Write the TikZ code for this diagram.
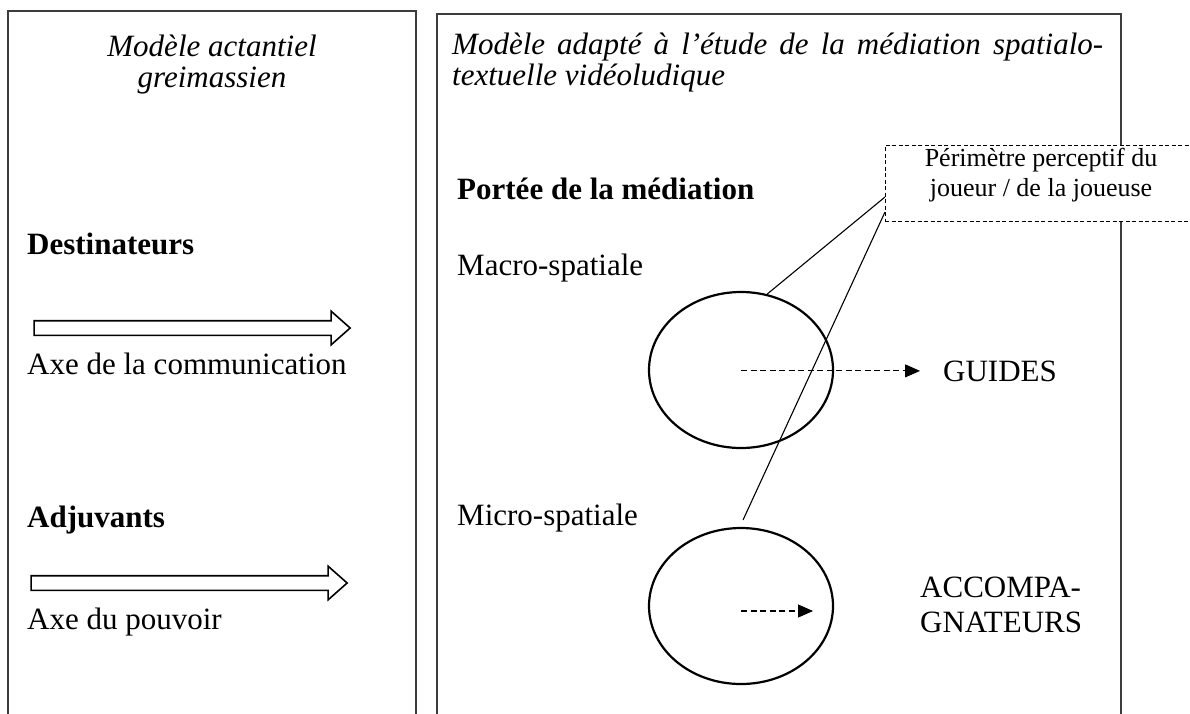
\documentclass[tikz,border=0pt]{standalone}
\usepackage{fontspec}
\setmainfont{Liberation Serif}
\usetikzlibrary{arrows.meta,positioning,shapes.geometric,shapes.arrows}
\definecolor{panelgray}{HTML}{3C3C3C}
\tikzset{
  panel/.style={draw=panelgray, line width=1.4pt},
  titletext/.style={font=\fontsize{31}{31}\selectfont\itshape, inner sep=0pt},
  headtext/.style={font=\fontsize{31}{33}\selectfont\bfseries, anchor=base west, inner sep=0pt},
  plaintext/.style={font=\fontsize{31}{35}\selectfont, anchor=base west, inner sep=0pt},
  bigarrow/.style={single arrow, draw, line width=1.6pt, inner xsep=0pt, inner ysep=6.5pt, single arrow head extend=9.5pt, single arrow tip angle=83, minimum height=316pt},
  zone/.style={ellipse, draw, line width=2.2pt, minimum width=184pt, minimum height=156pt, inner sep=0pt},
  perimbox/.style={draw, dashed, dash pattern=on 4pt off 2.5pt, fill=white, line width=1pt, minimum width=312pt, minimum height=76pt},
  perimtext/.style={font=\fontsize{26}{30}\selectfont, align=center, inner sep=0pt},
  thinedge/.style={line width=1.1pt},
  dashededge/.style={-{Triangle[length=15pt,width=13pt]}, dash pattern=on 6pt off 3.5pt, line width=1.1pt}
}
\begin{document}
\begin{tikzpicture}[x=1pt, y=-1pt]
  \useasboundingbox (0,0) rectangle (1190,713);
  \clip (0,0) rectangle (1190,713);
  % the two panels, open at the bottom
  \draw[panel] (8,730) -- (8,11) -- (416,11) -- (416,730);
  \draw[panel] (437,730) -- (437,14) -- (1121,14) -- (1121,730);
  % left panel
  \node[titletext, align=center, anchor=north] (lefttitle) at (212,35) {Modèle actantiel\\greimassien};
  \node[headtext] (destin) at (27,254) {Destinateurs};
  \node[bigarrow] (comm) at (188,328) {};
  \node[plaintext] (commlabel) at (27,374) {Axe de la communication};
  \node[headtext] (adjuv) at (27,527) {Adjuvants};
  \node[bigarrow] (pouvoir) at (185,583) {};
  \node[plaintext] (pouvoirlabel) at (27,629) {Axe du pouvoir};
  % right panel
  \node[titletext, align=left, anchor=north west] (righttitle) at (452,33) {\makebox[651pt][s]{Modèle adapté à l’étude de la médiation spatialo-}\\textuelle vidéoludique};
  \node[headtext] (portee) at (457,199) {Portée de la médiation};
  \node[plaintext] (macrolabel) at (457,275) {Macro-spatiale};
  \node[plaintext] (microlabel) at (457,525) {Micro-spatiale};
  \node[zone] (macro) at (741,370) {};
  \node[zone] (micro) at (741,606) {};
  \node[plaintext] (guides) at (943,381) {GUIDES};
  \node[plaintext, align=left, anchor=north west] (accomp) at (920,577) {ACCOMPA-\\GNATEURS};
  \coordinate (accend) at (813,611);
  \coordinate (perimlow) at (885,197);
  \coordinate (perimlow2) at (885,212);
  \coordinate (lineend) at (743,520);
  \draw[thinedge] (perimlow) -- (macro.71);
  \draw[thinedge] (perimlow2) -- (lineend);
  \node[perimbox] (perim) at (1041,183) {};
  \node[perimtext] (perimtxt) at (1041,175) {Périmètre perceptif du\\joueur / de la joueuse};
  \draw[dashededge, shorten >=23pt] (macro.center |- guides.west) -- (guides.west);
  \draw[dashededge] (micro.center |- accend) -- (accend);
\end{tikzpicture}
\end{document}
